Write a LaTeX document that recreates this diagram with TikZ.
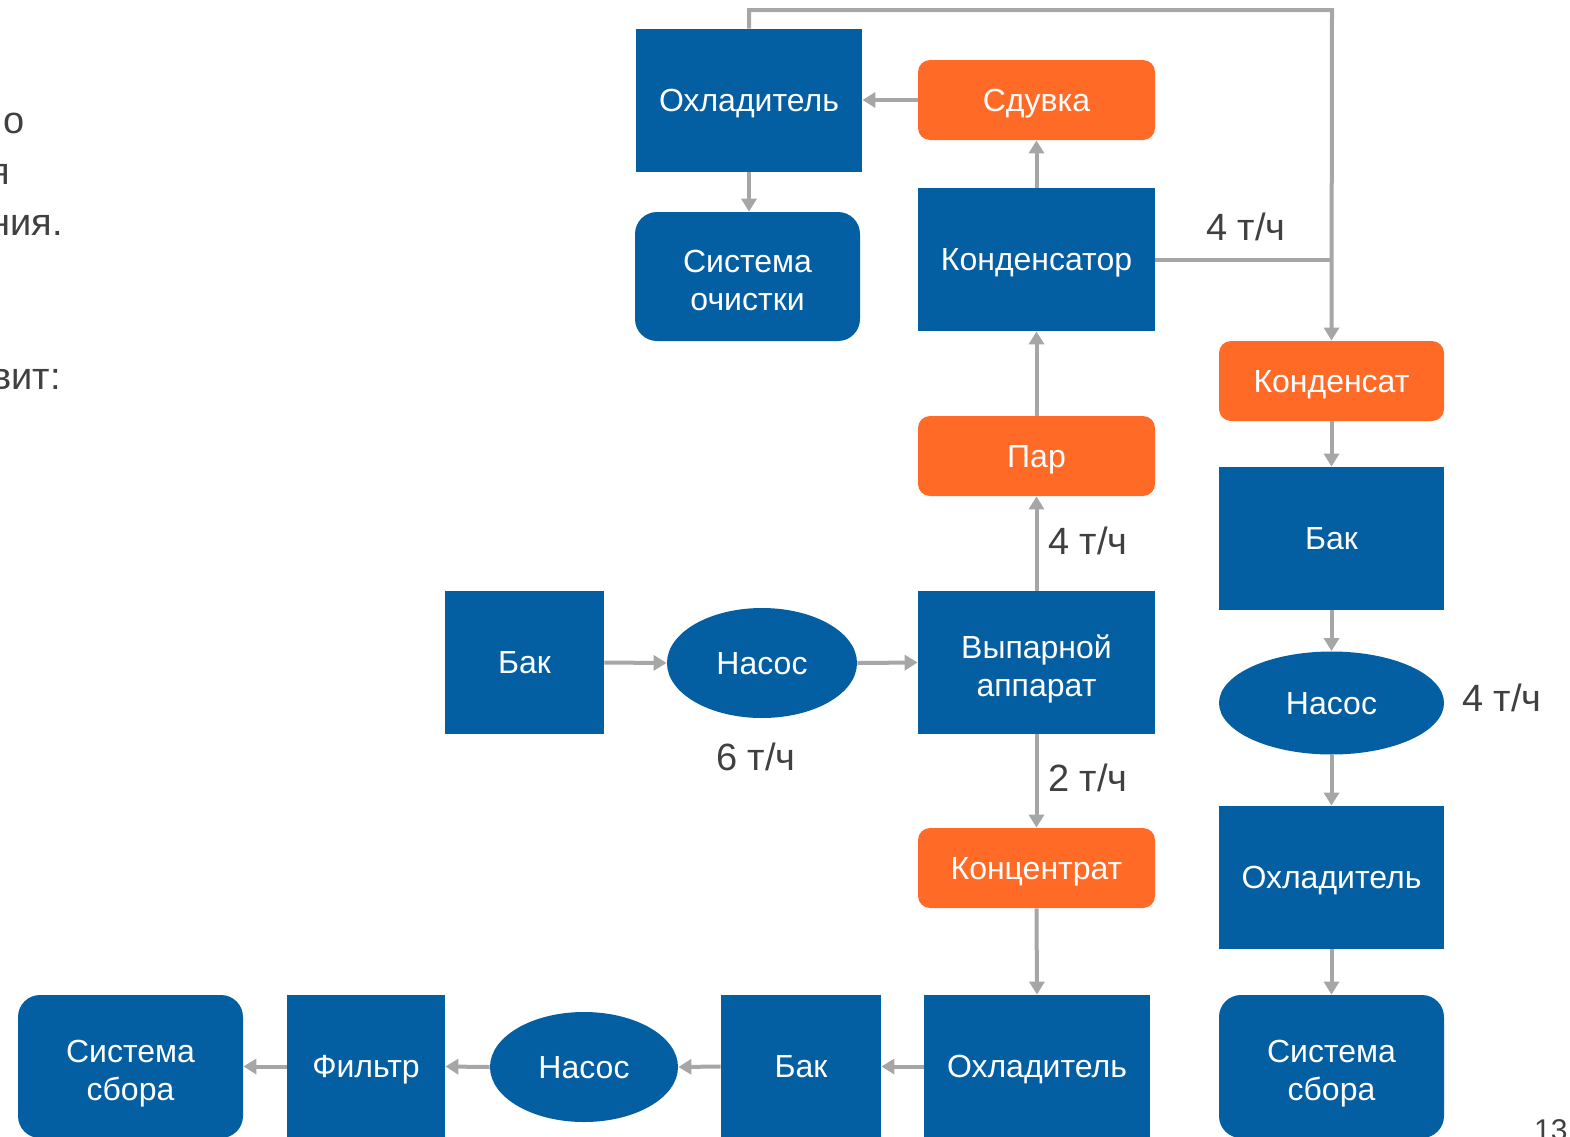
\documentclass[tikz,border=0pt]{standalone}
\usepackage{fontspec}
\setmainfont{Liberation Sans}
\usetikzlibrary{arrows.meta,shapes.geometric}
\definecolor{procblue}{HTML}{045EA2}
\definecolor{streamorange}{HTML}{FF6A27}
\definecolor{pipegray}{HTML}{A6A6A6}
\definecolor{labelgray}{HTML}{404040}
% line strut: full ascent and descent of the font, so that text is centred as a line box
\newcommand{\lstrut}{\rule[-0.212em]{0pt}{1.117em}}
% taller strut for the first of two lines
\newcommand{\firststrut}{\rule{0pt}{\dimexpr0.905em+4pt\relax}}
\begin{document}
\begin{tikzpicture}[x=0.5pt,y=-0.5pt,
  boxtext/.style={text=white,inner sep=0pt,align=center,
    font=\fontsize{16}{19}\selectfont,execute at begin node=\lstrut},
  unit/.style={boxtext,fill=procblue,draw=none,minimum width=#1},
  unit/.default=112.5pt,
  sq/.style={minimum height=71.5pt},
  stream/.style={boxtext,fill=streamorange,draw=none,minimum width=#1,
    minimum height=40pt,rounded corners=6pt},
  stream/.default=118.5pt,
  pump/.style={boxtext,ellipse,fill=procblue,draw=none,minimum width=#1},
  flow/.style={text=labelgray,font=\fontsize{19}{23}\selectfont,inner sep=0pt},
  side/.style={text=labelgray,font=\fontsize{19}{25.5}\selectfont,inner sep=0pt,anchor=base east},
  pipe/.style={draw=pipegray,line width=2pt},
  arr/.style={pipe,-{Triangle[length=6.5pt,width=7.5pt]}}
]
\useasboundingbox (0,0) rectangle (1570,1136);

% upper cooling / condensing section
\node[unit=113pt,sq] (cool1) at (749,100.5) {Охладитель};
\node[stream] (blow) at (1036.5,100) {Сдувка};
\node[unit,minimum height=64.5pt,rounded corners=11pt] (clean) at (747.5,276.5) {\firststrut Система\\\lstrut очистки};
\node[unit=118.5pt,sq] (cond) at (1036.5,259.5) {Конденсатор};
\node[stream=112.5pt] (condensate) at (1331.5,381) {Конденсат};
\node[stream] (steam) at (1036.5,456) {Пар};

% evaporation line
\node[unit=79.5pt,sq] (tankL) at (524.5,662.5) {Бак};
\node[pump=95pt,minimum height=55pt] (pumpM) at (762,663) {Насос};
\node[unit=118.5pt,sq] (evap) at (1036.5,662.5) {\firststrut Выпарной\\\lstrut аппарат};
\node[stream] (conc) at (1036.5,868) {Концентрат};

% condensate line
\node[unit,sq] (tankR) at (1331.5,538.5) {Бак};
\node[pump=112.5pt,minimum height=51.5pt] (pumpR) at (1331.5,703) {Насос};
\node[unit,sq] (coolR) at (1331.5,877.5) {Охладитель};
\node[unit,sq,rounded corners=11pt] (collR) at (1331.5,1066.5) {\firststrut Система\\\lstrut сбора};

% concentrate line
\node[unit=113pt,sq] (coolB) at (1037,1066.5) {Охладитель};
\node[unit=80pt,sq] (tankB) at (801,1066.5) {Бак};
\node[pump=94pt,minimum height=55pt] (pumpB) at (584,1067) {Насос};
\node[unit=79pt,sq] (filter) at (366,1066.5) {Фильтр};
\node[unit,sq,rounded corners=11pt] (collL) at (130.5,1066.5) {\firststrut Система\\\lstrut сбора};

% flow rates
\node[flow] (q1) at (1246,227) {4 т/ч};
\node[flow] (q2) at (1088,541) {4 т/ч};
\node[flow] (q3) at (1502,698) {4 т/ч};
\node[flow] (q4) at (1088,778) {2 т/ч};
\node[flow] (q5) at (756,757) {6 т/ч};

% slide text at the left edge and page number
\node[side] (t1) at (25,133) {о};
\node[side] (t2) at (10,184) {я};
\node[side] (t3) at (63,235) {ния.};
\node[side] (t4) at (61,389) {вит:};
\node[text=labelgray,font=\fontsize{15}{17}\selectfont,inner sep=0pt,anchor=base east] (pg) at (1568,1140) {13};

% pipes
\coordinate (loopR) at (1332,10);
\draw[arr] (cool1.north) |- (loopR) -- (condensate.north);
\draw[pipe] (cond.east) -- (cond.east -| condensate.north);
\draw[arr] (blow.west) -- (cool1.east |- blow.west);
\draw[arr] (cool1.south) -- (cool1.south |- clean.north);
\draw[arr] (cond.north) -- (blow.south);
\draw[arr] (steam.north) -- (cond.south);
\draw[arr] (evap.north) -- (steam.south);
\draw[arr] (tankL.east) -- (pumpM.west);
\draw[arr] (pumpM.east) -- (evap.west);
\draw[arr] (evap.south) -- (conc.north);
\draw[arr] (conc.south) -- (coolB.north);
\draw[arr] (condensate.south) -- (tankR.north);
\draw[arr] (tankR.south) -- (pumpR.north);
\draw[arr] (pumpR.south) -- (coolR.north);
\draw[arr] (coolR.south) -- (collR.north);
\draw[arr] (coolB.west) -- (tankB.east);
\draw[arr] (tankB.west) -- (pumpB.east);
\draw[arr] (pumpB.west) -- (filter.east);
\draw[arr] (filter.west) -- (collL.east);
\end{tikzpicture}
\end{document}
